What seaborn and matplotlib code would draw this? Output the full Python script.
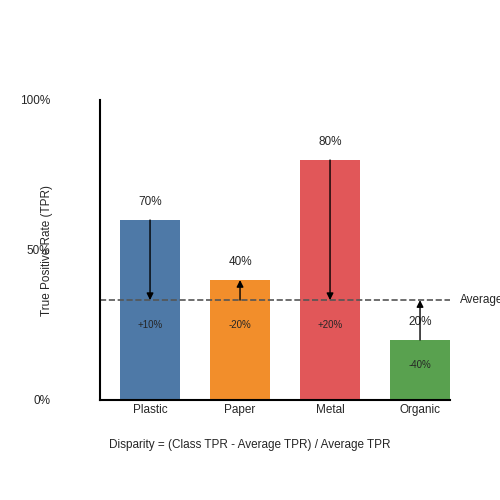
import matplotlib
matplotlib.use("Agg")
import matplotlib.pyplot as plt
import seaborn as sns
import pandas as pd

categories = ["Plastic", "Paper", "Metal", "Organic"]
bar_heights = [60, 40, 80, 20]
value_labels = ["70%", "40%", "80%", "20%"]
disparity_labels = ["+10%", "-20%", "+20%", "-40%"]
disparity_sign = [1, -1, 1, -1]
average_tpr = 33.3
colors = ["#4e79a7", "#f28e2b", "#e15759", "#59a14f"]
ytick_vals = [0, 50, 100]
ytick_labels = ["0%", "50%", "100%"]

sns.set_style("white")
plt.rcParams["font.family"] = ["Liberation Sans", "DejaVu Sans"]

df = pd.DataFrame({"cat": categories, "h": bar_heights})
fig = plt.figure(figsize=(5, 5), dpi=100)
ax = fig.add_axes([0.2, 0.2, 0.7, 0.6])
sns.barplot(data=df, x="cat", y="h", hue="cat", palette=colors, width=0.667,
            saturation=1, legend=False, linewidth=0, ax=ax)
ax.set_xlim(-0.556, 3.333)
ax.set_ylim(0, 100)
sns.despine(ax=ax)
for s in ["left", "bottom"]:
    ax.spines[s].set_linewidth(1.5)
    ax.spines[s].set_color("black")
ax.set_yticks(ytick_vals)
ax.set_yticklabels(ytick_labels, fontsize=8.5)
ax.tick_params(axis="y", length=0, pad=36)
ax.tick_params(axis="x", length=0, pad=3, labelsize=8.5)
ax.set_xlabel("")
ax.set_ylabel("True Positive Rate (TPR)", fontsize=8.5)
ax.yaxis.set_label_coords(-0.135, 0.5)

ax.axhline(average_tpr, color="#555555", linestyle="--", linewidth=1.2, zorder=1)
ax.text(3.44, average_tpr, "Average", fontsize=8.5, va="center", ha="left", clip_on=False)

for i, h in enumerate(bar_heights):
    ax.text(i, h + 4, value_labels[i], ha="center", va="bottom", fontsize=8.5)
    if disparity_sign[i] > 0:
        start, end = max(h, average_tpr), min(h, average_tpr)
    else:
        start, end = min(h, average_tpr), max(h, average_tpr)
    ax.annotate("", xy=(i, end), xytext=(i, start),
                arrowprops=dict(arrowstyle="-|>", color="black", lw=1, mutation_scale=10,
                                shrinkA=0, shrinkB=0))
    ty = min(h, average_tpr) - 8.3
    ax.text(i, ty, disparity_labels[i], ha="center", va="center", fontsize=7)

fig.text(0.5, 0.11, "Disparity = (Class TPR - Average TPR) / Average TPR",
         ha="center", va="center", fontsize=8.5)
fig.savefig("out.png", dpi=100)
